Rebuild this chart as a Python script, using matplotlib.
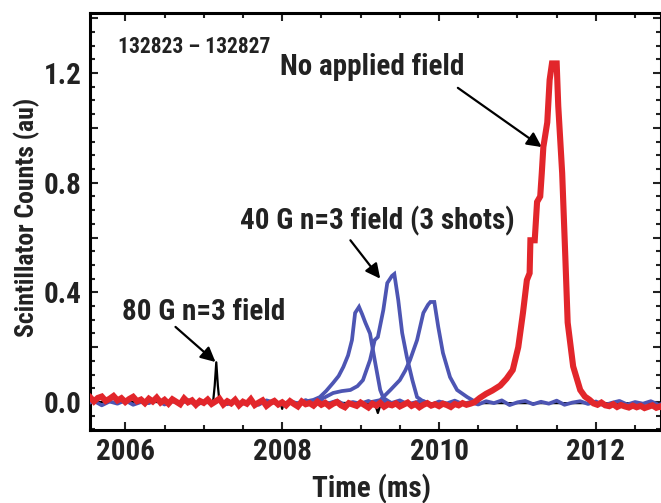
import matplotlib
matplotlib.use("Agg")
import matplotlib.pyplot as plt
from matplotlib.ticker import MultipleLocator
import numpy as np

plt.rcParams['font.family'] = ['Roboto Condensed', 'Liberation Sans', 'DejaVu Sans']
plt.rcParams['font.weight'] = 'bold'

# no applied field (red) -- baseline before the peak, sampled evenly
red_base_start, red_base_end = 2005.50, 2010.45
red_base = [0.010, 0.018, 0.002, 0.015, 0.020, 0.004, 0.012, 0.022, 0.006, 0.014,
            0.000, 0.011, 0.019, 0.003, 0.009, -0.004, 0.012, 0.002, 0.016, -0.002,
            0.008, -0.006, 0.010, 0.001, -0.008, 0.013, -0.001, 0.006, -0.010, 0.004,
            -0.003, 0.009, -0.007, 0.002, 0.012, -0.009, 0.003, -0.005, 0.008, -0.012,
            0.001, -0.006, 0.010, -0.011, -0.002, 0.006, -0.014, -0.003, 0.004, -0.009,
            -0.001, -0.012, 0.003, -0.007, -0.016, 0.002, -0.008, -0.004, -0.013, 0.001,
            -0.010, -0.003, -0.015, -0.006, 0.000, -0.012, -0.019, -0.004, -0.009, -0.014,
            -0.002, -0.011, -0.020, -0.006, -0.013, -0.003, -0.017, -0.008, -0.012, -0.005,
            -0.016, -0.009, -0.002, -0.014, -0.007, -0.019, -0.010, -0.004, -0.013, -0.008,
            -0.015, -0.006, -0.011, -0.018, -0.007, -0.012, -0.004, -0.010, -0.006, -0.001]
# red peak
red_peak_t = [2010.52, 2010.60, 2010.68, 2010.78, 2010.86, 2010.94, 2011.01, 2011.07,
              2011.12, 2011.155, 2011.165, 2011.22, 2011.25, 2011.29, 2011.31, 2011.33,
              2011.38, 2011.41, 2011.44, 2011.50, 2011.52, 2011.57, 2011.61, 2011.64,
              2011.71, 2011.80, 2011.86, 2011.92]
red_peak_v = [0.015, 0.030, 0.042, 0.060, 0.085, 0.117, 0.20, 0.325,
              0.445, 0.47, 0.59, 0.59, 0.73, 0.75, 0.835, 0.93,
              1.02, 1.175, 1.235, 1.235, 1.08, 0.835, 0.53, 0.29,
              0.13, 0.044, 0.020, 0.008]
# red tail after the peak
red_tail_start, red_tail_end = 2011.97, 2012.87
red_tail = [-0.005, -0.010, -0.002, -0.012, -0.015, -0.008, -0.018, -0.011, -0.016,
            -0.020, -0.013, -0.019, -0.014, -0.022, -0.017, -0.012, -0.021, -0.016,
            -0.024]

# 40 G n=3 field (blue): common baseline of the 3 shots
blue_base_start, blue_base_end = 2005.50, 2012.90
blue_base = [-0.008, 0.004, -0.012, 0.002, -0.006, 0.006, -0.010, 0.000, -0.004, 0.008,
             -0.009, 0.003, -0.005, 0.007, -0.011, 0.001, -0.003, 0.005, -0.008, 0.002,
             -0.006, 0.004, -0.010, 0.006, -0.002, -0.009, 0.003, -0.005, 0.007, -0.007,
             0.001, -0.004, 0.005, -0.011, 0.000, -0.006, 0.004, -0.009, 0.002, -0.003,
             0.006, -0.008, -0.001, 0.004, -0.010, 0.002, -0.005, 0.005, -0.007, 0.000,
             -0.009, 0.003, -0.004, 0.006, -0.011, -0.001, 0.004, -0.008, 0.001, -0.006,
             0.005, -0.010, -0.002, 0.003, -0.007, 0.002, -0.012, -0.003, 0.004, -0.009,
             0.000, -0.006, 0.003, -0.010, -0.002]
shot1_t = [2008.30, 2008.40, 2008.48, 2008.56, 2008.65, 2008.72, 2008.78, 2008.84, 2008.89,
           2008.93, 2008.98, 2009.02, 2009.06, 2009.12, 2009.18, 2009.25, 2009.29, 2009.36]
shot1_v = [0.002, 0.008, 0.018, 0.040, 0.070, 0.095, 0.128, 0.170, 0.226,
           0.325, 0.347, 0.320, 0.290, 0.250, 0.153, 0.044, 0.015, 0.002]
shot2_t = [2008.45, 2008.55, 2008.65, 2008.76, 2008.87, 2008.96, 2009.03, 2009.12, 2009.18,
           2009.22, 2009.29, 2009.34, 2009.40, 2009.43, 2009.48, 2009.53, 2009.59, 2009.66,
           2009.72, 2009.80]
shot2_v = [0.004, 0.018, 0.033, 0.040, 0.044, 0.058, 0.080, 0.153, 0.226,
           0.237, 0.336, 0.434, 0.460, 0.467, 0.372, 0.252, 0.164, 0.080,
           0.018, 0.002]
shot3_t = [2009.15, 2009.25, 2009.38, 2009.50, 2009.57, 2009.63, 2009.72, 2009.80, 2009.86,
           2009.89, 2009.94, 2009.99, 2010.05, 2010.14, 2010.23, 2010.36, 2010.45]
shot3_v = [0.001, 0.007, 0.044, 0.080, 0.115, 0.153, 0.226, 0.325, 0.355,
           0.365, 0.365, 0.274, 0.179, 0.091, 0.044, 0.018, 0.003]

# 80 G n=3 field (black)
black_t = [2005.50, 2007.00, 2007.12, 2007.14, 2007.16, 2007.18, 2007.20, 2007.40, 2007.98,
           2008.00, 2008.02, 2009.18, 2009.22, 2009.26, 2012.90]
black_v = [0.000, 0.000, 0.002, 0.060, 0.145, 0.060, 0.002, 0.000, -0.002,
           -0.025, -0.002, -0.004, -0.040, -0.004, -0.004]

fig = plt.figure(figsize=(6.61, 5.03), dpi=100)
ax = fig.add_axes([90/661, 1 - 430/503, 1 - 90/661, (430 - 13)/503])

red_col = '#e2262b'
blue_col = '#4d55b3'
ink = '#222222'

ax.plot(black_t, black_v, color='black', lw=1.6, zorder=2)
ax.plot(np.linspace(blue_base_start, blue_base_end, len(blue_base)), blue_base,
        color=blue_col, lw=2.7, zorder=3)
for t, v in [(shot1_t, shot1_v), (shot2_t, shot2_v), (shot3_t, shot3_v)]:
    ax.plot(t, v, color=blue_col, lw=2.7, zorder=3, solid_joinstyle='miter')
red_t = list(np.linspace(red_base_start, red_base_end, len(red_base))) + red_peak_t + \
    list(np.linspace(red_tail_start, red_tail_end, len(red_tail)))
red_v = red_base + red_peak_v + red_tail
ax.plot(red_t, red_v, color=red_col, lw=4.4, zorder=4, solid_joinstyle='miter')

ax.set_xlim(2005.55, 2012.83)
ax.set_ylim(-0.102, 1.419)

ax.xaxis.set_major_locator(MultipleLocator(2))
ax.xaxis.set_minor_locator(MultipleLocator(0.5))
ax.set_yticks([0, 0.2, 0.4, 0.6, 0.8, 1.0, 1.2, 1.4])
ax.set_yticklabels(['0.0', '', '0.4', '', '0.8', '', '1.2', ''])
ax.yaxis.set_minor_locator(MultipleLocator(0.05))
ax.tick_params(which='both', direction='in', top=True, right=True, width=1.5,
               labelsize=21, pad=6, colors=ink)
ax.tick_params(which='major', length=6)
ax.tick_params(which='minor', length=3.5)
for s in ax.spines.values():
    s.set_linewidth(2.2)

ax.set_xlabel('Time (ms)', fontsize=21, fontweight='bold', color=ink)
ax.xaxis.set_label_coords((371 - 90)/571, -0.106)
ax.set_ylabel('Scintillator Counts (au)', fontsize=18.5, fontweight='bold', color=ink)
ax.yaxis.set_label_coords(-0.088, 0.51)

ax.text(2005.91, 1.274, '132823 – 132827', fontsize=15.5, fontweight='bold', color=ink)
ax.text(2007.97, 1.193, 'No applied field', fontsize=21, fontweight='bold', color=ink)
ax.text(2007.46, 0.628, '40 G n=3 field (3 shots)', fontsize=21, fontweight='bold', color=ink)
ax.text(2005.96, 0.300, '80 G n=3 field', fontsize=21, fontweight='bold', color=ink)

arrow = dict(arrowstyle='-|>', color='black', lw=1.6, mutation_scale=22, shrinkA=0, shrinkB=0)
ax.annotate('', xy=(2011.31, 0.93), xytext=(2010.24, 1.146), arrowprops=arrow)
ax.annotate('', xy=(2009.25, 0.45), xytext=(2008.87, 0.59), arrowprops=arrow)
ax.annotate('', xy=(2007.15, 0.146), xytext=(2006.64, 0.274), arrowprops=arrow)

fig.savefig('out.png', dpi=100)
